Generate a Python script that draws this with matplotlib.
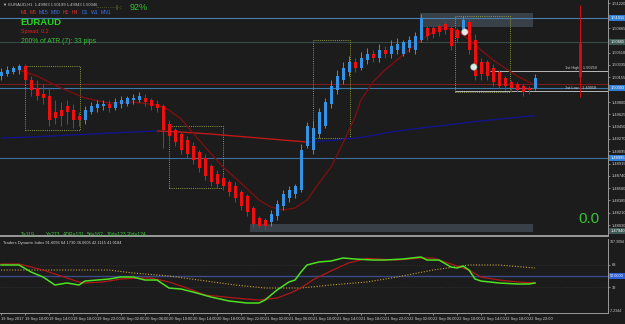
import matplotlib
matplotlib.use("Agg")
import matplotlib.pyplot as plt
import matplotlib.transforms as mtransforms
from matplotlib.patches import Rectangle

plt.rcParams['font.family'] = ['Liberation Sans', 'DejaVu Sans']

W, H = 625, 324
BG = "#1c1c1c"
UP = "#3593e6"
DOWN = "#ee1010"

# EURAUD H1, bar 0 = 19 Sep 2017 06:00, bar 89 = 22 Sep 23:00
opens = [1.50176, 1.50204, 1.50233, 1.50262, 1.50320, 1.50118, 1.50003, 1.49916, 1.49888, 1.49657,
         1.49686, 1.49744, 1.49686, 1.49600, 1.49542, 1.49657, 1.49715, 1.49744, 1.49772, 1.49715,
         1.49772, 1.49772, 1.49830, 1.49830, 1.49859, 1.49830, 1.49772, 1.49744, 1.49484, 1.49398,
         1.49340, 1.49254, 1.49168, 1.49081, 1.48995, 1.48880, 1.48764, 1.48707, 1.48649, 1.48592,
         1.48505, 1.48448, 1.48275, 1.48131, 1.48102, 1.48073, 1.48160, 1.48304, 1.48419, 1.48476,
         1.48534, 1.49168, 1.49110, 1.49340, 1.49456, 1.49772, 1.49974, 1.50118, 1.50233, 1.50377,
         1.50291, 1.50406, 1.50492, 1.50435, 1.50550, 1.50492, 1.50550, 1.50492, 1.50579, 1.50550,
         1.50694, 1.50867, 1.50867, 1.50896, 1.50924, 1.50867, 1.50838, 1.50809, 1.50953, 1.50694,
         1.50377, 1.50377, 1.50291, 1.50233, 1.50147, 1.50089, 1.50060, 1.50032, 1.50003, 1.50003]
highs = [1.50291, 1.50320, 1.50320, 1.50348, 1.50348, 1.50176, 1.50118, 1.50060, 1.50003, 1.49830,
         1.49801, 1.49830, 1.49772, 1.49657, 1.49744, 1.49801, 1.49830, 1.49830, 1.49830, 1.49859,
         1.49888, 1.49888, 1.49916, 1.49945, 1.49916, 1.49859, 1.49830, 1.49772, 1.49542, 1.49427,
         1.49369, 1.49312, 1.49225, 1.49110, 1.49052, 1.48908, 1.48822, 1.48764, 1.48678, 1.48649,
         1.48534, 1.48476, 1.48304, 1.48160, 1.48131, 1.48246, 1.48390, 1.48534, 1.48592, 1.48620,
         1.49196, 1.49513, 1.49542, 1.49715, 1.49859, 1.50118, 1.50262, 1.50377, 1.50464, 1.50435,
         1.50521, 1.50579, 1.50550, 1.50636, 1.50608, 1.50694, 1.50723, 1.50694, 1.50752, 1.50809,
         1.51068, 1.50896, 1.50896, 1.50924, 1.50953, 1.50896, 1.50867, 1.51040, 1.51011, 1.50780,
         1.50435, 1.50406, 1.50348, 1.50262, 1.50176, 1.50118, 1.50089, 1.50060, 1.50032, 1.50204]
lows = [1.50118, 1.50176, 1.50204, 1.50204, 1.50060, 1.49888, 1.49830, 1.49772, 1.49456, 1.49484,
        1.49456, 1.49484, 1.49427, 1.49456, 1.49484, 1.49628, 1.49657, 1.49686, 1.49657, 1.49686,
        1.49715, 1.49744, 1.49772, 1.49801, 1.49744, 1.49686, 1.49657, 1.49139, 1.49254, 1.49168,
        1.49052, 1.48995, 1.48908, 1.48793, 1.48678, 1.48592, 1.48563, 1.48534, 1.48448, 1.48361,
        1.48246, 1.48160, 1.47987, 1.47987, 1.47958, 1.48016, 1.48102, 1.48246, 1.48361, 1.48419,
        1.48505, 1.49139, 1.49052, 1.49283, 1.49427, 1.49715, 1.49916, 1.50060, 1.50176, 1.50233,
        1.50262, 1.50348, 1.50377, 1.50377, 1.50435, 1.50435, 1.50492, 1.50464, 1.50521, 1.50492,
        1.50665, 1.50694, 1.50723, 1.50752, 1.50780, 1.50550, 1.50665, 1.50780, 1.50492, 1.50118,
        1.50118, 1.50118, 1.50032, 1.50003, 1.49974, 1.49945, 1.49945, 1.49888, 1.49916, 1.49974]
closes = [1.50233, 1.50262, 1.50291, 1.50320, 1.50118, 1.49974, 1.49888, 1.49859, 1.49542, 1.49571,
          1.49600, 1.49657, 1.49542, 1.49542, 1.49686, 1.49744, 1.49772, 1.49772, 1.49715, 1.49801,
          1.49830, 1.49859, 1.49859, 1.49888, 1.49801, 1.49744, 1.49715, 1.49398, 1.49312, 1.49225,
          1.49110, 1.49052, 1.48966, 1.48851, 1.48736, 1.48649, 1.48620, 1.48592, 1.48505, 1.48419,
          1.48304, 1.48217, 1.48044, 1.48016, 1.48016, 1.48188, 1.48332, 1.48476, 1.48534, 1.48592,
          1.49110, 1.49456, 1.49427, 1.49657, 1.49801, 1.50032, 1.50176, 1.50291, 1.50377, 1.50291,
          1.50435, 1.50492, 1.50435, 1.50550, 1.50492, 1.50608, 1.50636, 1.50665, 1.50694, 1.50752,
          1.51011, 1.50752, 1.50780, 1.50809, 1.50838, 1.50608, 1.50723, 1.50982, 1.50550, 1.50176,
          1.50204, 1.50176, 1.50089, 1.50032, 1.50032, 1.50003, 1.49974, 1.49945, 1.49974, 1.50147]

# moving averages (sampled along the curves)
slow_bars = [0, 5, 10, 15, 20, 26, 30, 35, 40, 45, 51, 55, 60, 65, 70, 75, 80, 85, 89]
slow_vals = [1.49283, 1.49297, 1.49319, 1.49340, 1.49362, 1.49384, 1.49369, 1.49340, 1.49304, 1.49268,
             1.49225, 1.49247, 1.49290, 1.49369, 1.49427, 1.49477, 1.49528, 1.49571, 1.49607]
fast_bars = [3, 6, 10, 14, 18, 22, 26, 28, 30, 33, 37, 40, 43, 45, 47, 49, 51, 53, 55, 57, 59, 60,
             62, 64, 66, 68, 70, 72, 74, 76, 78, 80, 82, 84, 86, 88, 89]
fast_vals = [1.50262, 1.50176, 1.50003, 1.49859, 1.49787, 1.49801, 1.49758, 1.49686, 1.49556, 1.49254,
             1.48865, 1.48635, 1.48390, 1.48289, 1.48246, 1.48275, 1.48390, 1.48635, 1.48865, 1.49211,
             1.49585, 1.49830, 1.50089, 1.50262, 1.50406, 1.50550, 1.50694, 1.50809, 1.50867, 1.50838,
             1.50694, 1.50550, 1.50406, 1.50291, 1.50176, 1.50089, 1.50046]

# Traders Dynamic Index
green_bars = [0, 3, 5, 7, 9, 11, 13, 14, 16, 18, 20, 22, 24, 26, 28, 30, 32, 35, 38, 41, 43, 44, 46, 48,
              49, 50, 51, 53, 55, 57, 59, 62, 64, 67, 70, 71, 73, 75, 76, 77, 78, 79, 80, 83, 86, 88, 89]
green_vals = [67.5, 67.5, 56.4, 48.4, 35.7, 38.9, 35.7, 42.0, 43.6, 45.2, 48.4, 48.4, 43.6, 43.6, 30.9,
              29.3, 24.6, 16.6, 10.3, 7.1, 7.1, 11.8, 27.7, 40.5, 43.6, 56.4, 67.5, 72.3, 73.8, 78.6,
              77.0, 75.4, 75.4, 77.0, 80.2, 75.4, 75.4, 64.3, 62.7, 65.9, 59.5, 45.2, 42.0, 38.9, 37.3,
              37.3, 38.9]
red_bars = [0, 3, 7, 11, 13, 14, 17, 20, 23, 25, 28, 31, 34, 39, 43, 46, 48, 50, 52, 55, 58, 61, 66,
            70, 72, 74, 78, 80, 83, 86, 89]
red_vals = [69.1, 69.1, 59.5, 46.8, 40.5, 38.9, 40.5, 45.2, 46.8, 46.8, 40.5, 30.9, 19.8, 15.0, 11.8,
            15.0, 22.0, 31.0, 44.0, 58.0, 71.0, 78.0, 75.4, 78.6, 78.6, 72.3, 59.5, 48.4, 43.6, 40.5, 38.9]
base_bars = [0, 11, 18, 22, 28, 33, 39, 44, 50, 55, 61, 66, 72, 78, 83, 89]
base_vals = [59.5, 59.5, 59.5, 54.8, 50.0, 43.6, 35.7, 30.9, 30.9, 35.7, 40.5, 48.4, 59.5, 67.5, 67.5, 62.7]

price_ticks = [1.51220, 1.50865, 1.50690, 1.50510, 1.50335, 1.50155, 1.49800, 1.49625, 1.49450,
               1.49270, 1.49095, 1.48915, 1.48740, 1.48560, 1.48385, 1.48210, 1.48030]
time_labels = ["19 Sep 2017", "19 Sep 10:00", "19 Sep 14:00", "19 Sep 18:00", "19 Sep 22:00",
               "20 Sep 02:00", "20 Sep 06:00", "20 Sep 10:00", "20 Sep 14:00", "20 Sep 18:00",
               "20 Sep 22:00", "21 Sep 02:00", "21 Sep 06:00", "21 Sep 10:00", "21 Sep 14:00",
               "21 Sep 18:00", "21 Sep 22:00", "22 Sep 02:00", "22 Sep 06:00", "22 Sep 10:00",
               "22 Sep 14:00", "22 Sep 18:00", "22 Sep 22:00"]
time_label_bars = list(range(0, 89, 4))


def rect(x0, y0, x1, y1):
    return [x0 / W, 1 - y1 / H, (x1 - x0) / W, (y1 - y0) / H]


def ftext(x, y, s, **kw):
    fig.text(x / W, 1 - y / H, s, va="center", **kw)


fig = plt.figure(figsize=(W / 100, H / 100), dpi=100, facecolor=BG)

# ---------------- main price window ----------------
ax = fig.add_axes(rect(0, 0, 608, 236), facecolor=BG)
XMIN, XMAX = -1 / 6, 607 / 6
ax.set_xlim(XMIN, XMAX)
ax.set_ylim(1.47872, 1.51270)

# zones
ax.add_patch(Rectangle((69.8, 1.50881), 18.9, 0.00202, fc="#3a4048", ec="none", zorder=1))
ax.add_patch(Rectangle((41.5, 1.47929), 47.2, 0.00115, fc="#3a4048", ec="none", zorder=1))

# horizontal levels
ax.axhline(1.51011, color="#4d7fae", lw=0.8, zorder=2)
ax.axhline(1.50665, color="#3a4846", lw=0.8, zorder=2)
ax.axhline(1.50060, color="#7a1c1c", lw=0.8, zorder=2)
ax.axhline(1.50003, color="#3d78a6", lw=0.8, zorder=2)
ax.axhline(1.48995, color="#3d6d98", lw=0.8, zorder=2)
ax.hlines(1.50250, 81.5, XMAX, color="#d0d0d0", lw=0.6, zorder=2)
ax.hlines(1.49958, 75.7, XMAX, color="#d0d0d0", lw=0.6, zorder=2)
ax.text(94.0, 1.50262, "1st High - 1.50250", fontsize=2.8, color="#cfcfcf", va="bottom")
ax.text(94.0, 1.49968, "1st Low - 1.49958", fontsize=2.8, color="#cfcfcf", va="bottom")

# dotted boxes
for (b0, b1, p0, p1) in [(4.0, 13.2, 1.49398, 1.50320), (28.0, 37.0, 1.48563, 1.49456),
                         (52.0, 58.2, 1.49283, 1.50694), (75.7, 84.8, 1.49945, 1.51040)]:
    ax.add_patch(Rectangle((b0, p0), b1 - b0, p1 - p0, fill=False, ec="#8c9a3c",
                           ls=(0, (1, 1.2)), lw=0.7, zorder=3))

# moving averages
for k in range(len(slow_bars) - 1):
    c = "#14148a" if slow_vals[k + 1] >= slow_vals[k] else "#c01818"
    ax.plot(slow_bars[k:k + 2], slow_vals[k:k + 2], color=c, lw=1.0, zorder=3,
            solid_capstyle="butt")
ax.plot(fast_bars, fast_vals, color="#7a1010", lw=1.0, zorder=3)

# candles
for i in range(len(opens)):
    o, h, l, c = opens[i], highs[i], lows[i], closes[i]
    col = UP if c >= o else DOWN
    ax.vlines(i, l, h, color=col, lw=0.7, zorder=4)
    ax.add_patch(Rectangle((i - 0.25, min(o, c)), 0.5, max(abs(c - o), 0.00004),
                           fc=col, ec="none", zorder=5))

# right-side daily bar
ax.vlines(96.5, 1.49873, 1.51198, color="#d01010", lw=0.7, zorder=4)
ax.vlines(96.5, 1.50161, 1.50651, color="#d01010", lw=2.0, zorder=4)

# signal circles
ax.scatter([77.3, 78.8], [1.50809, 1.50305], s=22, c=["#f0e6e6", "#d6f0de"],
           edgecolors="#9a9a9a", linewidths=0.4, zorder=6)

# price axis
ax.yaxis.tick_right()
ax.set_yticks(price_ticks)
ax.set_yticklabels([f"{p:.5f}" for p in price_ticks])
ax.tick_params(axis="y", labelsize=2.9, colors="#d0d0d0", length=1.5, width=0.4, pad=1)
ax.set_xticks([])
for s in ["top", "left"]:
    ax.spines[s].set_visible(False)
for s in ["right", "bottom"]:
    ax.spines[s].set_color("#9a9a9a")
    ax.spines[s].set_linewidth(0.7)
ax.spines["bottom"].set_linewidth(1.4)

trans = mtransforms.blended_transform_factory(ax.transAxes, ax.transData)
for p, fc in [(1.51011, "#2f7fd6"), (1.50665, "#3d5a55"), (1.50003, "#2f7fd6"),
              (1.48995, "#2f7fd6"), (1.47940, "#3d5a55")]:
    ax.text(1.004, p, f"{p:.5f}", transform=trans, fontsize=2.9, color="white", va="center",
            ha="left", clip_on=False,
            bbox=dict(boxstyle="square,pad=0.25", fc=fc, ec="none"))

# ---------------- indicator window ----------------
ax2 = fig.add_axes(rect(0, 239, 608, 313), facecolor=BG)
ax2.set_xlim(XMIN, XMAX)
ax2.set_ylim(-8.8, 108.8)
ax2.axhline(50, color="#3b4a86", lw=1.0)
ax2.axhline(68, color="#3c3c3c", lw=0.5, ls=(0, (1, 2)))
ax2.axhline(32, color="#3c3c3c", lw=0.5, ls=(0, (1, 2)))
ax2.plot(base_bars, base_vals, color="#c8a030", lw=0.8, ls=(0, (1, 1.5)))
ax2.plot(red_bars, red_vals, color="#b01818", lw=0.9)
ax2.plot(green_bars, green_vals, color="#4ee021", lw=1.1)
ax2.yaxis.tick_right()
ax2.set_yticks([68, 32])
ax2.set_yticklabels(["68", "32"])
ax2.tick_params(axis="y", labelsize=2.9, colors="#d0d0d0", length=1.5, width=0.4, pad=1)
ax2.set_xticks(time_label_bars)
ax2.set_xticklabels(time_labels, ha="left")
ax2.tick_params(axis="x", labelsize=2.9, colors="#d0d0d0", length=1.5, width=0.4, pad=1.5)
ax2.spines["top"].set_visible(False)
ax2.spines["left"].set_visible(False)
for s in ["right", "bottom"]:
    ax2.spines[s].set_color("#9a9a9a")
    ax2.spines[s].set_linewidth(0.7)
trans2 = mtransforms.blended_transform_factory(ax2.transAxes, ax2.transData)
ax2.text(1.003, 50, "50.0000", transform=trans2, fontsize=2.7, color="white", va="center",
         clip_on=False, bbox=dict(boxstyle="square,pad=0.25", fc="#2f5fd6", ec="none"))
ax2.text(1.003, 104, "107.3094", transform=trans2, fontsize=2.5, color="#d0d0d0", va="center",
         clip_on=False)
ax2.text(1.003, -6.0, "-7.2344", transform=trans2, fontsize=2.5, color="#d0d0d0", va="center",
         clip_on=False)

# ---------------- text overlays ----------------
ftext(3, 5, "▼ EURAUD,H1  1.49963 1.50199 1.49943 1.50046", fontsize=3.0, color="#c8c8c8")
ftext(95, 7, "··········|·:", fontsize=4.5, color="#9aa040")
ftext(130, 7, "92%", fontsize=6.5, color="#2fc42f")
for x, word, col in [(21, "M1", "#e03030"), (30, "M5", "#e03030"), (39, "M15", "#4070e8"),
                     (51, "M30", "#4070e8"), (63, "H1", "#e03030"), (72, "H4", "#e03030"),
                     (82, "D1", "#4070e8"), (91, "W1", "#4070e8"), (101, "MN1", "#4070e8")]:
    ftext(x, 12.5, word, fontsize=3.6, color=col)
ftext(20, 22.5, "EURAUD", fontsize=6.8, color="#22d822", fontweight="bold")
ftext(21, 32, "Spread: 0.2", fontsize=3.8, color="#e82020")
ftext(21, 41.5, "200% of ATR (7): 33 pips", fontsize=4.9, color="#36c236")
ftext(578, 219, "0.0", fontsize=11, color="#33c533")
for x, s in [(21, "T=119"), (46, "Y=273"), (63, "ADR=131"), (87, "5d=162"), (107, "10d=123"),
             (127, "20d=124")]:
    ftext(x, 234.5, s, fontsize=3.6, color="#3cc63c")
ftext(3, 243, "Traders Dynamic Index 91.6095 64.1730 36.0605 42.1115 41.0184", fontsize=2.9,
      color="#d0d0d0")

fig.savefig("out.png", dpi=100, facecolor=BG)
